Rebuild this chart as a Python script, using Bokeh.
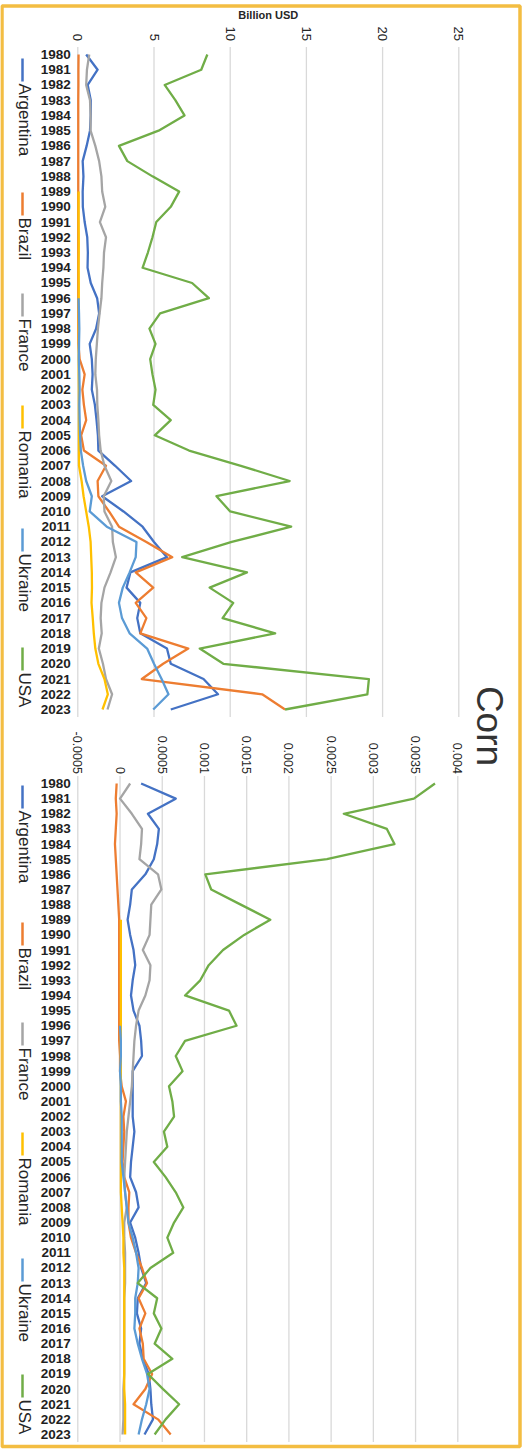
import math

from bokeh.core.properties import value
from bokeh.embed import file_html
from bokeh.models import Range1d
from bokeh.plotting import figure
from bokeh.resources import INLINE

NAN = float("nan")

YEARS = list(range(1980, 2024))
COUNTRIES = ["Argentina", "Brazil", "France", "Romania", "Ukraine", "USA"]
COLORS = ["#4472C4", "#ED7D31", "#A5A5A5", "#FFC000", "#5B9BD5", "#70AD47"]

# Corn exports, billion USD (1980-2023)
ARGENTINA_USD = [0.55, 1.3, 0.65, 0.85, 0.85, 0.8, 0.58, 0.32, 0.37, 0.32,
                 0.33, 0.45, 0.62, 0.66, 0.64, 0.85, 1.27, 1.4, 1.2, 0.78,
                 0.92, 0.97, 0.92, 1.12, 1.23, 1.32, 1.35, 2.45, 3.5, 1.6,
                 3.0, 4.25, 5.0, 5.85, 3.45, 3.2, 4.1, 3.9, 4.1, 5.85,
                 6.1, 8.25, 9.2, 6.1]
BRAZIL_USD = [0.05, 0.04, 0.04, 0.03, 0.03, 0.03, 0.03, 0.03, 0.03, 0.03,
              0.03, 0.03, 0.03, 0.03, 0.03, 0.03, 0.03, 0.03, 0.03, 0.04,
              0.12, 0.45, 0.3, 0.4, 0.55, 0.22, 0.4, 1.85, 1.3, 1.35,
              2.05, 2.7, 4.5, 6.2, 3.8, 4.95, 3.8, 4.5, 4.1, 7.25,
              5.6, 4.2, 12.1, 13.6]
FRANCE_USD = [0.75, 0.6, 0.55, 0.8, 0.84, 0.84, 1.15, 1.4, 1.55, 1.6,
              1.8, 1.45, 1.85, 1.72, 1.68, 1.6, 1.55, 1.43, 1.32, 1.25,
              1.18, 1.15, 1.26, 1.28, 1.35, 1.4, 1.5, 1.75, 2.2, 1.7,
              1.75, 2.25, 2.3, 2.5, 2.15, 1.75, 1.55, 1.5, 1.57, 1.38,
              1.65, 1.85, 2.25, 1.95]
ROMANIA_USD = [NAN, NAN, NAN, NAN, NAN, NAN, NAN, NAN, NAN, 0.05,
               0.05, 0.05, 0.06, 0.06, 0.05, 0.06, 0.06, 0.06, 0.06, 0.06,
               0.06, 0.06, 0.07, 0.07, 0.07, 0.07, 0.07, 0.08, 0.25, 0.38,
               0.55, 0.72, 0.84, 0.88, 0.92, 0.93, 0.9, 0.98, 1.05, 1.15,
               1.35, 1.75, 1.97, 1.62]
UKRAINE_USD = [NAN, NAN, NAN, NAN, NAN, NAN, NAN, NAN, NAN, NAN,
               NAN, NAN, NAN, NAN, NAN, NAN, 0.05, 0.08, 0.1, 0.08,
               0.07, 0.1, 0.12, 0.1, 0.12, 0.15, 0.2, 0.35, 0.55, 0.92,
               0.78, 1.9, 3.85, 3.8, 3.4, 2.95, 2.7, 2.9, 3.4, 4.55,
               5.0, 5.5, 5.95, 4.95]
USA_USD = [8.5, 8.1, 5.7, 6.4, 7.0, 5.3, 2.7, 3.25, 4.9, 6.65,
           6.1, 5.15, 4.9, 4.6, 4.25, 7.5, 8.6, 5.4, 4.7, 5.1,
           4.75, 4.9, 5.1, 4.95, 6.1, 5.05, 7.3, 10.7, 13.9, 9.1,
           10.0, 14.0, 10.1, 6.85, 11.1, 8.65, 10.2, 9.5, 12.95, 8.0,
           9.55, 19.1, 19.0, 13.6]

# Corn (1980-2023)
ARGENTINA_CORN = [0.00025, 0.00066, 0.00033, 0.00046, 0.00044, 0.0004, 0.0003, 0.00014, 0.00012, 0.00009,
                  0.00012, 0.00016, 0.00018, 0.00015, 0.00013, 0.00016, 0.00023, 0.00025, 0.00026, 0.00015,
                  0.00015, 0.00015, 0.00015, 0.00017, 0.00015, 0.00013, 0.00012, 0.00019, 0.00022, 0.00012,
                  0.00018, 0.00022, 0.00025, 0.00031, 0.00021, 0.0002, 0.00025, 0.00023, 0.00027, 0.00034,
                  0.00036, 0.00037, 0.00039, 0.00029]
BRAZIL_CORN = [-0.00004, -0.00005, -0.00004, -0.00005, -0.00006, -0.00005, -0.00004, -0.00003, -0.00002, -0.00001,
               -0.00001, -0.00001, -0.00001, -0.00001, -0.00001, -0.00001, -0.00001, -0.00001, 0.0, 0.0,
               0.00002, 0.00007, 0.00004, 0.00005, 0.00004, 0.00003, 0.00005, 0.00011, 0.0001, 0.0001,
               0.00013, 0.00019, 0.00026, 0.00032, 0.00022, 0.0003, 0.00023, 0.00027, 0.00028, 0.00038,
               0.0003, 0.00016, 0.00045, 0.0006]
FRANCE_CORN = [0.00012, 0.0, 0.00014, 0.00026, 0.00025, 0.00023, 0.00045, 0.00049, 0.00037, 0.00036,
               0.00035, 0.00027, 0.00036, 0.00035, 0.0003, 0.00022, 0.00019, 0.00017, 0.00016, 0.00015,
               0.00014, 0.00012, 0.0001, 0.00008, 0.00007, 0.00006, 0.00005, 0.00006, 0.00008, 0.00005,
               0.00005, 0.00006, 0.00006, 0.00006, 0.00005, 0.00005, 0.00005, 0.00005, 0.00005, 0.00005,
               0.00004, 0.00004, 0.00004, 0.00003]
ROMANIA_CORN = [NAN, NAN, NAN, NAN, NAN, NAN, NAN, NAN, NAN, 0.00001,
                0.00001, 0.00001, 0.00001, 0.00001, 0.00001, 0.00001, 0.00001, 0.00001, 0.00001, 0.00001,
                0.00001, 0.00001, 0.00001, 0.00001, 0.00001, 0.00001, 0.00001, 0.00001, 0.00002, 0.00003,
                0.00004, 0.00004, 0.00005, 0.00005, 0.00005, 0.00005, 0.00005, 0.00005, 0.00005, 0.00005,
                0.00005, 0.00006, 0.00006, 0.00006]
UKRAINE_CORN = [NAN, NAN, NAN, NAN, NAN, NAN, NAN, NAN, NAN, NAN,
                NAN, NAN, NAN, NAN, NAN, NAN, 0.0, 0.00001, 0.00001, 0.0,
                0.00001, 0.00001, 0.00002, 0.00002, 0.00002, 0.00002, 0.00004, 0.00006, 0.00008, 0.0001,
                0.00015, 0.00019, 0.00022, 0.00021, 0.00018, 0.00018, 0.00017, 0.00021, 0.00026, 0.00032,
                0.00035, 0.00031, 0.00026, 0.00022]
USA_CORN = [0.00373, 0.00348, 0.00265, 0.00316, 0.00325, 0.00245, 0.00101, 0.00108, 0.00143, 0.00178,
            0.00147, 0.00122, 0.00105, 0.00095, 0.00077, 0.00129, 0.00138, 0.00077, 0.00066, 0.00074,
            0.00058, 0.00062, 0.00064, 0.00052, 0.00056, 0.0004, 0.00054, 0.00066, 0.00075, 0.00064,
            0.00056, 0.00063, 0.00036, 0.00021, 0.00044, 0.0004, 0.00049, 0.00041, 0.00062, 0.00033,
            0.00051, 0.0007, 0.00054, 0.00041]

USD_TICKS = [0, 5, 10, 15, 20, 25]
USD_TICK_LABELS = ["0", "5", "10", "15", "20", "25"]
CORN_TICKS = [-0.0005, 0.0, 0.0005, 0.001, 0.0015, 0.002, 0.0025, 0.003, 0.0035, 0.004]
CORN_TICK_LABELS = ["-0.0005", "0", "0.0005", "0.001", "0.0015", "0.002",
                    "0.0025", "0.003", "0.0035", "0.004"]

USD_SERIES = [ARGENTINA_USD, BRAZIL_USD, FRANCE_USD, ROMANIA_USD, UKRAINE_USD, USA_USD]
CORN_SERIES = [ARGENTINA_CORN, BRAZIL_CORN, FRANCE_CORN, ROMANIA_CORN, UKRAINE_CORN, USA_CORN]

# ---- page geometry (pixels) ----
W, H = 529, 1453
VALUE_LEFT_PX = 77.3            # where each panel's first value gridline sits
USD_RIGHT_PX = 458.3            # 25 bn gridline
CORN_RIGHT_PX = 457.3           # 0.004 gridline
TOP_FIRST_PX, TOP_LAST_PX = 54.0, 709.0      # 1980 / 2023 rows, upper panel
BOT_FIRST_PX, BOT_LAST_PX = 783.0, 1434.0    # 1980 / 2023 rows, lower panel

TEXT = "#262626"
GRID = "#D9D9D9"
SANS = "'Liberation Sans', Arial, sans-serif"
LINE_W = 2.3


def range_through(v0, p0, v1, p1, size, flip=False):
    """Range1d whose scale puts value v0 at pixel p0 and v1 at pixel p1."""
    k = (v1 - v0) / (p1 - p0)
    a = v0 - p0 * k
    b = v0 + (size - p0) * k
    return Range1d(start=b, end=a) if flip else Range1d(start=a, end=b)


usd_x = range_through(USD_TICKS[0], VALUE_LEFT_PX, USD_TICKS[-1], USD_RIGHT_PX, W)
corn_x = range_through(CORN_TICKS[0], VALUE_LEFT_PX, CORN_TICKS[-1], CORN_RIGHT_PX, W)
top_y = range_through(YEARS[0], TOP_FIRST_PX, YEARS[-1], TOP_LAST_PX, H, flip=True)
bot_y = range_through(YEARS[0], BOT_FIRST_PX, YEARS[-1], BOT_LAST_PX, H, flip=True)

p = figure(width=W, height=H, x_range=usd_x, y_range=top_y,
           x_axis_type=None, y_axis_type=None,
           output_backend="svg", toolbar_location=None,
           min_border=0, min_border_left=0, min_border_right=0,
           min_border_top=0, min_border_bottom=0,
           background_fill_color="white", border_fill_color="white")
p.outline_line_color = None
p.extra_x_ranges = {"corn": corn_x, "px_x": Range1d(0, W)}
p.extra_y_ranges = {"bottom": bot_y, "px_y": Range1d(H, 0)}

first_edge = YEARS[0] - 0.5
last_edge = YEARS[-1] + 0.5
year_labels = [str(y) for y in YEARS]

# ---------- upper panel: billion USD ----------
n = len(USD_TICKS)
p.segment(x0=USD_TICKS, x1=USD_TICKS, y0=[first_edge] * n, y1=[last_edge] * n,
          line_color=GRID, line_width=1.3)
p.text(x=USD_TICKS, y=[first_edge] * n, text=USD_TICK_LABELS, y_offset=-6,
       angle=-math.pi / 2, text_align="right", text_baseline="middle",
       text_font=value(SANS), text_font_size="13px", text_color=TEXT)
p.text(x=[(USD_TICKS[0] + USD_TICKS[-1]) / 2], y=[first_edge], text=["Billion USD"],
       y_offset=-32, text_align="center", text_baseline="middle",
       text_font=value(SANS), text_font_style="bold", text_font_size="11px",
       text_color=TEXT)
p.text(x=[USD_TICKS[0]] * len(YEARS), y=YEARS, text=year_labels,
       x_offset=-7, text_align="right", text_baseline="middle",
       text_font=value(SANS), text_font_style="bold", text_font_size="13.5px",
       text_color="#1f1f1f")
for color, vals in zip(COLORS, USD_SERIES):
    p.line(x=vals, y=YEARS, line_color=color, line_width=LINE_W, line_join="round")

# ---------- lower panel: corn ----------
n = len(CORN_TICKS)
p.segment(x0=CORN_TICKS, x1=CORN_TICKS, y0=[first_edge] * n, y1=[last_edge] * n,
          line_color=GRID, line_width=1.3, x_range_name="corn", y_range_name="bottom")
p.text(x=CORN_TICKS, y=[first_edge] * n, text=CORN_TICK_LABELS, y_offset=-2,
       angle=-math.pi / 2, text_align="right", text_baseline="middle",
       text_font=value(SANS), text_font_size="12.5px", text_color=TEXT,
       x_range_name="corn", y_range_name="bottom")
p.text(x=[CORN_TICKS[0]] * len(YEARS), y=YEARS, text=year_labels,
       x_offset=-7, text_align="right", text_baseline="middle",
       text_font=value(SANS), text_font_style="bold", text_font_size="13.5px",
       text_color="#1f1f1f", x_range_name="corn", y_range_name="bottom")
for color, vals in zip(COLORS, CORN_SERIES):
    p.line(x=vals, y=YEARS, line_color=color, line_width=LINE_W, line_join="round",
           x_range_name="corn", y_range_name="bottom")

# ---------- rotated legends (one per panel), title, frame ----------
legend_top_y = [83, 217, 318, 430, 553, 672]
legend_bottom_y = [810, 947, 1047, 1157, 1283, 1399]
for starts in (legend_top_y, legend_bottom_y):
    p.segment(x0=[22] * 6, x1=[22] * 6, y0=[s - 25 for s in starts], y1=[s - 2 for s in starts],
              line_color=COLORS, line_width=2.5, x_range_name="px_x", y_range_name="px_y")
    p.text(x=[23.5] * 6, y=starts, text=COUNTRIES,
           angle=-math.pi / 2, text_align="left", text_baseline="middle",
           text_font=value(SANS), text_font_size="17px", text_color=TEXT,
           x_range_name="px_x", y_range_name="px_y")

p.text(x=[489], y=[725.5], text=["Corn"], angle=-math.pi / 2,
       text_align="center", text_baseline="middle",
       text_font=value(SANS), text_font_size="37px", text_color="#333333",
       x_range_name="px_x", y_range_name="px_y")

p.quad(left=[1.5], right=[519.5], top=[5.5], bottom=[1446],
       fill_color=None, line_color="#F3BD42", line_width=3.5,
       x_range_name="px_x", y_range_name="px_y")

open("out.html", "w").write(file_html(p, INLINE))
